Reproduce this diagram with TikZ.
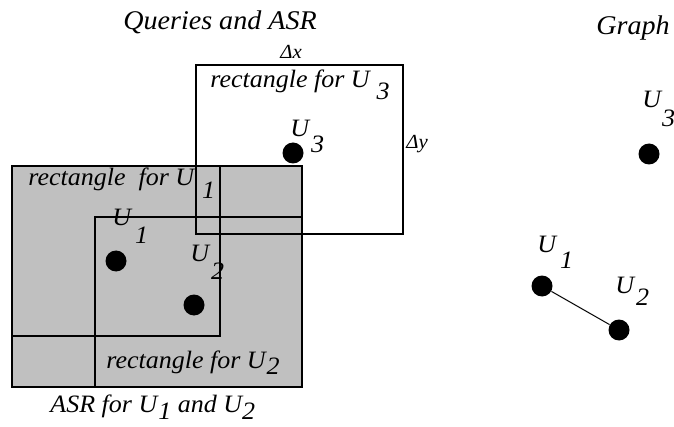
\documentclass[tikz,border=0pt]{standalone}
\usepackage{fontspec}
\newfontfamily\figfont{Liberation Serif}[FakeStretch=1.04]
\definecolor{asrgray}{RGB}{192,192,192}
% U with a lowered index: kern, drop, digit
\newcommand{\usub}[3]{U\kern#1\raisebox{-#2}{#3}}

\begin{document}
\begin{tikzpicture}[x=0.5pt, y=-0.5pt,
    txt/.style={font=\figfont\itshape\fontsize{12.5}{14}\selectfont, inner sep=0pt, anchor=base west},
    big/.style={txt, font=\figfont\itshape\fontsize{13.5}{15}\selectfont},
    small/.style={txt, font=\figfont\itshape\fontsize{10}{12}\selectfont},
    dot/.style={circle, fill=black, minimum size=10.5pt, inner sep=0pt},
    box/.style={draw, line width=0.6pt},
    edge/.style={line width=0.5pt}
]
\useasboundingbox (0,0) rectangle (674,427);

% ASR and query rectangles
\filldraw[box, fill=asrgray] (12,166) rectangle (302,387);
\draw[box] (12,166) rectangle (220,336);
\draw[box] (95,217) rectangle (302,387);
\draw[box] (196,65) rectangle (403,234);

% Users
\node[dot] (q3) at (293,153) {};
\node[dot] (q1) at (116,261) {};
\node[dot] (q2) at (194,305) {};
\node[dot] (g3) at (649,154) {};
\node[dot] (g1) at (542,286) {};
\node[dot] (g2) at (619,330) {};
\draw[edge] (g1) -- (g2);

% Titles
\node[big, anchor=base] (title) at (220,30) {Queries and ASR};
\node[big] (gtitle) at (596,35) {Graph};
\node[small] (dx) at (280,59) {Δx};
\node[small] (dy) at (406,149) {Δy};

% Rectangle labels
\node[txt] (r3) at (210,88) {rectangle for \usub{3.5pt}{6pt}{3}};
\node[txt] (r1) at (28,186) {rectangle\ \ for \usub{4pt}{6pt}{1}};
\node[txt] (r2) at (106,368) {rectangle for \usub{0.5pt}{3pt}{2}};
\node[txt] (asr) at (50,412) {ASR for \usub{0.5pt}{3.5pt}{1} and \usub{0pt}{3.5pt}{2}};

% User labels
\node[txt] (lq3) at (290,137) {\usub{1pt}{8pt}{3}};
\node[txt] (lq1) at (112,226) {\usub{2pt}{9pt}{1}};
\node[txt] (lq2) at (190,262) {\usub{1pt}{9pt}{2}};
\node[txt] (lg3) at (642,108) {\usub{0.5pt}{9.5pt}{3}};
\node[txt] (lg1) at (537,252) {\usub{2pt}{8pt}{1}};
\node[txt] (lg2) at (615,293) {\usub{1pt}{6pt}{2}};

\end{tikzpicture}
\end{document}
